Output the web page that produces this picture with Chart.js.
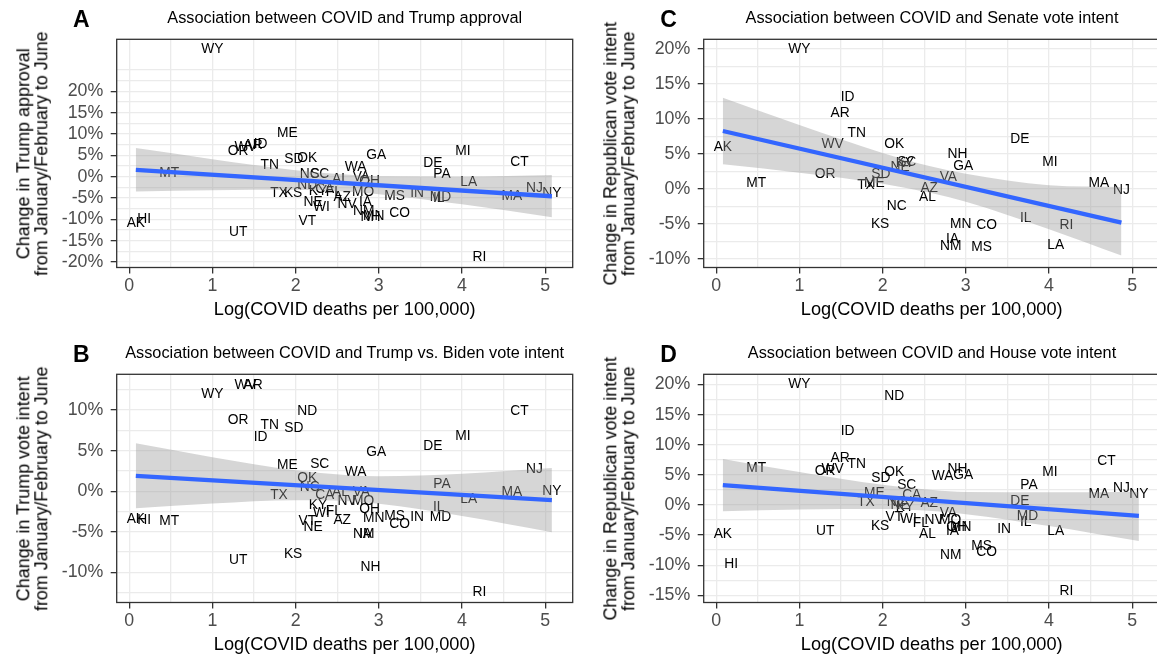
<!DOCTYPE html>
<html><head><meta charset="utf-8">
<script src="https://cdn.jsdelivr.net/npm/chart.js@4.4.1/dist/chart.umd.min.js"></script>
<style>
html,body{margin:0;padding:0;background:#fff;overflow:hidden;width:1157px;height:655px;}
#wrap{position:relative;width:1157px;height:655px;overflow:hidden;}
canvas{position:absolute;}
.letter{position:absolute;font:bold 23px "Liberation Sans",Arial,sans-serif;color:#000;line-height:24px;width:30px;text-align:center;}
.title{position:absolute;font:16.3px "Liberation Sans",Arial,sans-serif;color:#000;line-height:20px;width:560px;text-align:center;white-space:nowrap;}
.ytitle{position:absolute;font:17.9px "Liberation Sans",Arial,sans-serif;color:#000;line-height:17.7px;width:320px;height:35.4px;text-align:center;white-space:nowrap;transform:rotate(-90deg);transform-origin:50% 50%;}
</style></head>
<body><div id="wrap"></div>
<script>
// ---------------- data ----------------
const states = ['AK','HI','MT','WY','UT','OR','WV','AR','ID','TN','TX','ME','KS','SD','ND','OK','VT','NC','NE','KY','SC','WI','CA','FL','AL','AZ','NV','WA','VA','MO','NM','IA','NH','OH','MN','GA','MS','CO','IN','DE','IL','MD','PA','MI','LA','RI','MA','CT','NJ','NY'];
const logDeaths = [0.08,0.18,0.48,1.00,1.31,1.31,1.40,1.49,1.58,1.69,1.80,1.90,1.97,1.98,2.14,2.14,2.14,2.17,2.21,2.27,2.29,2.31,2.35,2.46,2.54,2.56,2.62,2.72,2.79,2.81,2.82,2.84,2.90,2.89,2.94,2.97,3.19,3.25,3.46,3.65,3.72,3.74,3.76,4.01,4.08,4.21,4.60,4.69,4.87,5.08];

const approvalChange = [-10.8,-10.0,0.8,29.9,-13.1,6.0,6.9,7.3,7.5,2.8,-3.9,10.2,-3.9,4.2,-2.1,4.4,-10.4,0.6,-6.1,-3.3,0.5,-7.2,-3.0,-3.6,-0.5,-4.9,-6.4,2.2,-0.2,-3.7,-8.2,-6.1,-9.6,-1.0,-9.2,5.0,-4.7,-8.6,-3.9,3.2,-5.0,-4.9,0.5,6.0,-1.3,-19.0,-4.5,3.5,-2.7,-3.8];
const trumpBidenChange = [-3.4,-3.6,-3.7,11.9,-8.5,8.7,13.1,13.1,6.7,8.1,-0.5,3.2,-7.8,7.8,9.9,1.6,-3.7,0.5,-4.4,-1.7,3.3,-2.7,-0.5,-2.5,-0.1,-3.6,-1.2,2.3,-0.1,-1.2,-5.3,-5.3,-9.3,-2.2,-3.3,4.8,-3.1,-4.1,-3.2,5.5,-2.0,-3.2,0.9,6.8,-1.0,-12.4,-0.1,9.9,2.7,0.0];
const senateChange = [6.0,null,0.9,20.0,null,2.2,6.4,10.9,13.1,8.0,0.5,0.9,-5.0,2.1,null,6.4,null,-2.4,3.2,3.7,3.8,null,null,null,-1.1,0.1,null,null,1.7,null,-8.2,-7.1,5.0,null,-5.0,3.3,-8.3,-5.2,null,7.1,-4.2,null,null,3.9,-8.0,-5.2,0.9,null,-0.1,null];
const houseChange = [-4.9,-9.9,6.1,20.1,-4.3,5.6,6.0,7.8,12.2,6.7,0.4,2.0,-3.5,4.4,18.0,5.4,-2.0,0.4,0.0,-0.4,3.2,-2.3,1.6,-3.1,-4.9,0.3,-2.5,4.7,-1.4,-2.5,-8.3,-4.4,5.9,-3.7,-3.7,5.0,-6.8,-7.8,-4.1,0.7,-2.9,-1.8,3.2,5.4,-4.3,-14.4,1.8,7.3,2.8,1.8];

// fitted lines (endpoints) and confidence bands
const fitX = [0.08, 5.08];
const fitXSenate = [0.08, 4.87];
const fitApproval = [1.6, -4.6];
const fitTrumpBiden = [1.9, -1.1];
const fitSenate = [8.3, -4.8];
const fitHouse = [3.3, -1.8];

const bandX = [0.08, 1, 2, 2.6, 3, 4, 5.08];
const bandXSenate = [0.08, 1, 2, 2.6, 3, 4, 4.87];
const approvalUpper = [6.7, 4.1, 1.5, 0.5, 0.1, 0.0, 0.4];
const approvalLower = [-3.5, -3.2, -3.1, -3.5, -4.1, -6.5, -9.5];
const trumpBidenUpper = [5.9, 4.2, 2.6, 2.0, 1.85, 2.15, 2.85];
const trumpBidenLower = [-2.1, -1.5, -1.1, -1.2, -1.55, -3.05, -5.05];
const senateUpper = [13.05, 9.15, 5.17, 3.2, 2.19, 0.56, 0.3];
const senateLower = [3.55, 2.35, 0.77, -0.6, -1.81, -5.74, -9.5];
const houseUpper = [7.65, 5.46, 3.34, 2.48, 2.17, 2.1, 2.2];
const houseLower = [-1.05, -0.74, -0.66, -1.02, -1.53, -3.5, -6.0];

// tick labels
const xTickValues = [0, 1, 2, 3, 4, 5];
const yTicksApproval = [-20, -15, -10, -5, 0, 5, 10, 15, 20];
const yTicksTrumpBiden = [-10, -5, 0, 5, 10];
const yTicksSenate = [-10, -5, 0, 5, 10, 15, 20];
const yTicksHouse = [-15, -10, -5, 0, 5, 10, 15, 20];

// ---------------- layout ----------------
Chart.defaults.font.family = '"Liberation Sans", Arial, Helvetica, sans-serif';
const FONT = '"Liberation Sans", Arial, Helvetica, sans-serif';
const CW = 578, CH = 320;
const Y_AXIS_W = 116.7, X_AXIS_H = 52.5, PAD_TOP = 39.3, PAD_RIGHT = 5.3;
const X_MIN = -0.15, X_MAX = 5.33;

const panels = [
  {letter:'A', left:0, top:0, title:'Association between COVID and Trump approval',
   ytitle:['Change in Trump approval','from January/February to June'],
   values:approvalChange, yMin:-21.3, yMax:32.2, yTicks:yTicksApproval,
   fx:fitX, fy:fitApproval, bx:bandX, up:approvalUpper, lo:approvalLower},
  {letter:'B', left:0, top:335, title:'Association between COVID and Trump vs. Biden vote intent',
   ytitle:['Change in Trump vote intent','from January/February to June'],
   values:trumpBidenChange, yMin:-13.7, yMax:14.4, yTicks:yTicksTrumpBiden,
   fx:fitX, fy:fitTrumpBiden, bx:bandX, up:trumpBidenUpper, lo:trumpBidenLower},
  {letter:'C', left:587.3, top:0, title:'Association between COVID and Senate vote intent',
   ytitle:['Change in Republican vote intent','from January/February to June'],
   values:senateChange, yMin:-11.2, yMax:21.4, yTicks:yTicksSenate,
   fx:fitXSenate, fy:fitSenate, bx:bandXSenate, up:senateUpper, lo:senateLower},
  {letter:'D', left:587.3, top:335, title:'Association between COVID and House vote intent',
   ytitle:['Change in Republican vote intent','from January/February to June'],
   values:houseChange, yMin:-16.2, yMax:21.7, yTicks:yTicksHouse,
   fx:fitX, fy:fitHouse, bx:bandX, up:houseUpper, lo:houseLower}
];

// gridlines: majors, midpoints, plus one extended break each side (ggplot style)
function gridValues(majors, min, max) {
  const step = majors[1] - majors[0];
  const ext = [majors[0] - step].concat(majors, [majors[majors.length - 1] + step]);
  const out = [];
  for (let i = 0; i < ext.length; i++) {
    out.push(ext[i]);
    if (i < ext.length - 1) out.push((ext[i] + ext[i + 1]) / 2);
  }
  return out.filter(v => v >= min && v <= max);
}
const isIn = (arr, v) => arr.some(a => Math.abs(a - v) < 1e-9);

const labelPlugin = {
  id: 'stateLabels',
  beforeDatasetsDraw(chart) {
    const meta = chart.getDatasetMeta(0);
    const ds = chart.data.datasets[0];
    const ctx = chart.ctx;
    ctx.save();
    ctx.font = '13.8px ' + FONT;
    ctx.fillStyle = '#000';
    ctx.textAlign = 'center';
    ctx.textBaseline = 'middle';
    meta.data.forEach((pt, i) => ctx.fillText(ds.data[i].label, pt.x, pt.y));
    ctx.restore();
  }
};
const borderPlugin = {
  id: 'panelBorder',
  afterDraw(chart) {
    const a = chart.chartArea, ctx = chart.ctx;
    ctx.save();
    ctx.strokeStyle = '#333333';
    ctx.lineWidth = 1.3;
    ctx.strokeRect(a.left, a.top, a.right - a.left, a.bottom - a.top);
    ctx.restore();
  }
};

const wrap = document.getElementById('wrap');
panels.forEach(p => {
  const cv = document.createElement('canvas');
  cv.width = CW; cv.height = CH;
  cv.style.left = p.left + 'px'; cv.style.top = p.top + 'px';
  cv.style.width = CW + 'px'; cv.style.height = CH + 'px';
  wrap.appendChild(cv);

  const lt = document.createElement('div');
  lt.className = 'letter'; lt.textContent = p.letter;
  lt.style.left = (p.left + 81.3 - 15) + 'px'; lt.style.top = (p.top + 19.3 - 12) + 'px';
  wrap.appendChild(lt);

  const tt = document.createElement('div');
  tt.className = 'title'; tt.textContent = p.title;
  tt.style.left = (p.left + (Y_AXIS_W + CW - PAD_RIGHT) / 2 - 280) + 'px';
  tt.style.top = (p.top + 16.5 - 10) + 'px';
  wrap.appendChild(tt);

  const yt = document.createElement('div');
  yt.className = 'ytitle';
  yt.innerHTML = p.ytitle[0] + '<br>' + p.ytitle[1];
  yt.style.left = (p.left + 32.85 - 160) + 'px';
  yt.style.top = (p.top + (PAD_TOP + CH - X_AXIS_H) / 2 - 17.7) + 'px';
  wrap.appendChild(yt);

  const pts = [];
  states.forEach((s, i) => { if (p.values[i] !== null) pts.push({x: logDeaths[i], y: p.values[i], label: s}); });
  const fitData = p.fx.map((x, i) => ({x: x, y: p.fy[i]}));
  const upData = p.bx.map((x, i) => ({x: x, y: p.up[i]}));
  const loData = p.bx.map((x, i) => ({x: x, y: p.lo[i]}));

  const xGrid = gridValues(xTickValues, X_MIN, X_MAX);
  const yGrid = gridValues(p.yTicks, p.yMin, p.yMax);

  new Chart(cv, {
    type: 'line',
    data: { datasets: [
      {data: pts, showLine: false, pointRadius: 0, pointHoverRadius: 0, order: 3},
      {data: upData, borderWidth: 0, borderColor: 'rgba(0,0,0,0)', pointRadius: 0, fill: false, cubicInterpolationMode: 'monotone', order: 2},
      {data: loData, borderWidth: 0, borderColor: 'rgba(0,0,0,0)', pointRadius: 0, fill: '-1', backgroundColor: 'rgba(153,153,153,0.4)', cubicInterpolationMode: 'monotone', order: 1},
      {data: fitData, borderColor: '#3366FF', borderWidth: 4.3, pointRadius: 0, fill: false, order: 0}
    ]},
    options: {
      responsive: false, animation: false, events: [],
      layout: { padding: {top: PAD_TOP, right: PAD_RIGHT, left: 0, bottom: 0} },
      plugins: { legend: {display: false}, tooltip: {enabled: false}, title: {display: false} },
      scales: {
        x: {
          type: 'linear', min: X_MIN, max: X_MAX,
          afterBuildTicks: s => { s.ticks = xGrid.map(v => ({value: v})); },
          afterFit: s => { s.height = X_AXIS_H; },
          border: {display: false},
          grid: { color: '#EBEBEB', lineWidth: 1.3, tickLength: 6, tickWidth: 1.3,
                  tickColor: c => isIn(xTickValues, c.tick.value) ? '#333333' : 'rgba(0,0,0,0)' },
          ticks: { autoSkip: false, maxRotation: 0, minRotation: 0, padding: 1.6, color: '#4D4D4D',
                   font: {size: 17.8}, callback: v => isIn(xTickValues, v) ? String(Math.round(v)) : '' },
          title: { display: true, text: 'Log(COVID deaths per 100,000)', color: '#000',
                   font: {size: 18.2, lineHeight: '20px'}, padding: {top: 0, bottom: 0} }
        },
        y: {
          type: 'linear', min: p.yMin, max: p.yMax,
          afterBuildTicks: s => { s.ticks = yGrid.map(v => ({value: v})); },
          afterFit: s => { s.width = Y_AXIS_W; },
          border: {display: false},
          grid: { color: '#EBEBEB', lineWidth: 1.3, tickLength: 6, tickWidth: 1.3,
                  tickColor: c => isIn(p.yTicks, c.tick.value) ? '#333333' : 'rgba(0,0,0,0)' },
          ticks: { autoSkip: false, padding: 7.4, color: '#4D4D4D', font: {size: 17.8},
                   callback: v => isIn(p.yTicks, v) ? Math.round(v) + '%' : '' },
          title: { display: false }
        }
      }
    },
    plugins: [labelPlugin, borderPlugin]
  });
});
</script>
</body></html>
